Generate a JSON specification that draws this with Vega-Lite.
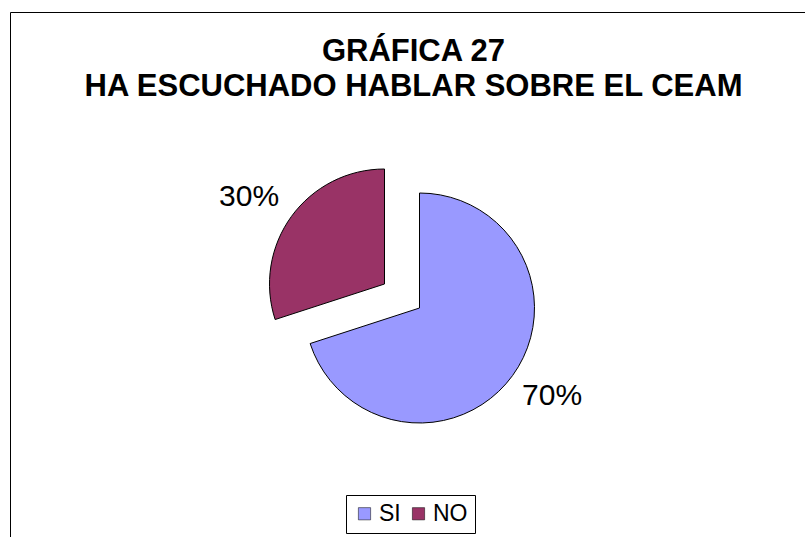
{
  "$schema": "https://vega.github.io/schema/vega-lite/v6.json",
  "width": 819,
  "height": 592,
  "autosize": {"type": "none"},
  "padding": {"left": 10, "top": 12, "right": 0, "bottom": 0},
  "background": "white",
  "view": {"stroke": "black", "strokeWidth": 1},
  "data": {"values": [
    {"cat": "SI", "value": 70, "label": "70%"},
    {"cat": "NO", "value": 30, "label": "30%"}
  ]},
  "title": {
    "text": ["GRÁFICA 27", "HA ESCUCHADO HABLAR SOBRE EL CEAM"],
    "font": "Liberation Sans",
    "fontSize": 31,
    "fontWeight": "bold",
    "color": "black",
    "anchor": "middle",
    "baseline": "alphabetic",
    "lineHeight": 35,
    "offset": -115,
    "dx": -6
  },
  "encoding": {
    "theta": {"field": "value", "type": "quantitative", "stack": true},
    "order": {"field": "cat", "sort": "descending"},
    "color": {
      "field": "cat", "type": "nominal",
      "scale": {"domain": ["SI", "NO"], "range": ["#9999FF", "#993366"]},
      "legend": {
        "orient": "none", "legendX": 336, "legendY": 483,
        "direction": "horizontal", "title": null,
        "symbolType": "square", "symbolSize": 150,
        "symbolStrokeColor": "black", "symbolStrokeWidth": 0.5,
        "labelFont": "Liberation Sans", "labelFontSize": 23, "labelColor": "black",
        "labelOffset": 3, "columnPadding": 6,
        "strokeColor": "black", "padding": 7
      }
    }
  },
  "layer": [
    {
      "mark": {"type": "arc", "outerRadius": 115, "stroke": "black", "strokeWidth": 1},
      "encoding": {
        "opacity": {"condition": {"test": "datum.cat === 'SI'", "value": 1}, "value": 0}
      }
    },
    {
      "mark": {"type": "arc", "outerRadius": 115, "stroke": "black", "strokeWidth": 1, "xOffset": -35, "yOffset": -24},
      "encoding": {
        "opacity": {"condition": {"test": "datum.cat === 'NO'", "value": 1}, "value": 0}
      }
    },
    {
      "mark": {"type": "text", "radius": 159, "font": "Liberation Sans", "fontSize": 30, "color": "black", "align": "center", "baseline": "middle", "xOffset": 4, "yOffset": -5},
      "encoding": {
        "text": {"field": "label"},
        "color": {"value": "black"},
        "opacity": {"condition": {"test": "datum.cat === 'SI'", "value": 1}, "value": 0}
      }
    },
    {
      "mark": {"type": "text", "radius": 160, "font": "Liberation Sans", "fontSize": 30, "color": "black", "align": "center", "baseline": "middle", "xOffset": -41, "yOffset": -17},
      "encoding": {
        "text": {"field": "label"},
        "color": {"value": "black"},
        "opacity": {"condition": {"test": "datum.cat === 'NO'", "value": 1}, "value": 0}
      }
    }
  ],
  "config": {
    "view": {"stroke": "black", "strokeWidth": 1}
  }
}
